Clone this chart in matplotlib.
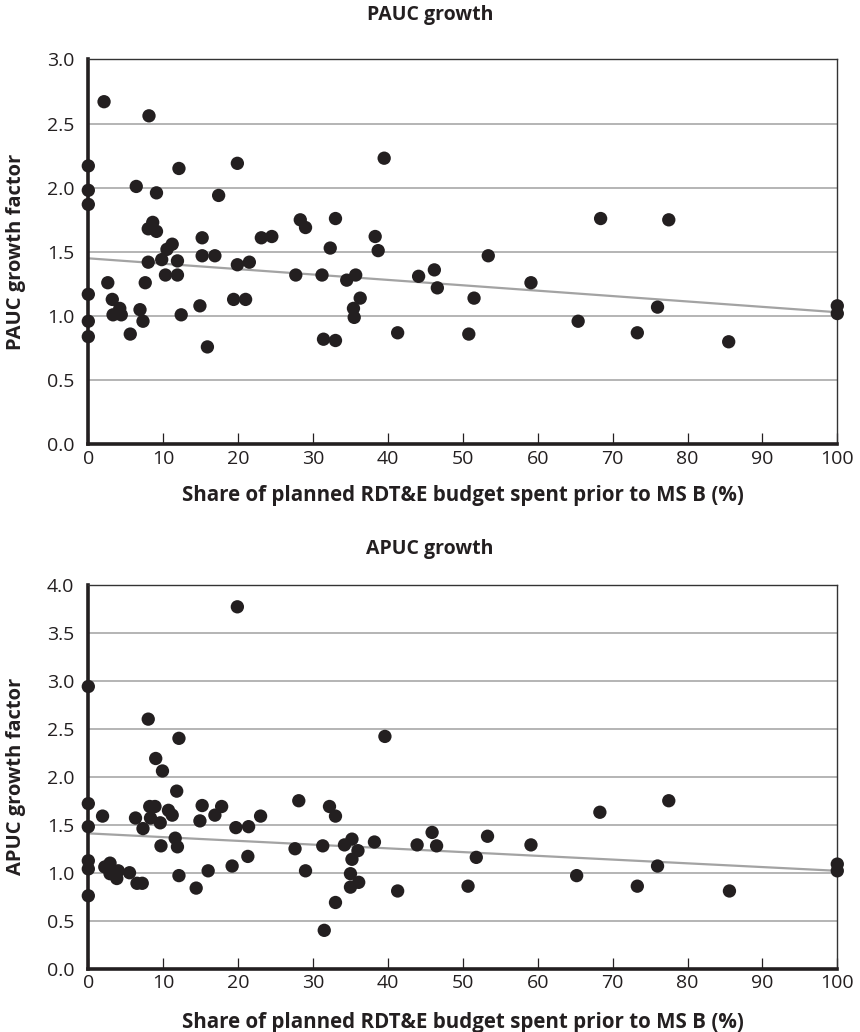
import numpy as np
import matplotlib
matplotlib.use("Agg")
import matplotlib.pyplot as plt

plt.rcParams["font.family"] = ["Open Sans", "DejaVu Sans"]

# PAUC growth (top panel): share of RDT&E spent before MS B (%) vs growth factor
pauc_share = [2.1, 8.1, 0, 19.9, 12.1, 0, 6.4, 9.1, 17.4, 0, 8.6, 8.0, 9.1, 28.3, 29.0, 33.0,
              11.2, 10.5, 15.2, 23.1, 24.5, 32.3, 15.2, 16.9, 9.8, 11.9, 8.0, 19.9, 21.5,
              10.3, 11.9, 27.7, 31.2, 2.6, 7.6, 0, 3.2, 4.2, 3.3, 4.4, 6.9, 7.3, 12.4, 14.9,
              19.4, 21.0, 0, 5.6, 0, 15.9, 31.4, 33.0,
              39.5, 38.3, 38.7, 53.4, 68.4, 46.2, 35.7, 34.5, 44.1, 46.6, 59.1, 36.3, 51.5,
              35.4, 35.5, 65.4, 41.3, 50.8, 77.5, 76.0, 73.3, 85.5, 100, 100]
pauc_growth = [2.67, 2.56, 2.17, 2.19, 2.15, 1.98, 2.01, 1.96, 1.94, 1.87, 1.73, 1.68, 1.66, 1.75, 1.69, 1.76,
               1.56, 1.52, 1.61, 1.61, 1.62, 1.53, 1.47, 1.47, 1.44, 1.43, 1.42, 1.40, 1.42,
               1.32, 1.32, 1.32, 1.32, 1.26, 1.26, 1.17, 1.13, 1.06, 1.01, 1.01, 1.05, 0.96, 1.01, 1.08,
               1.13, 1.13, 0.96, 0.86, 0.84, 0.76, 0.82, 0.81,
               2.23, 1.62, 1.51, 1.47, 1.76, 1.36, 1.32, 1.28, 1.31, 1.22, 1.26, 1.14, 1.14,
               1.06, 0.99, 0.96, 0.87, 0.86, 1.75, 1.07, 0.87, 0.80, 1.08, 1.02]
pauc_trend_x = [0, 100]
pauc_trend_y = [1.45, 1.03]

# APUC growth (bottom panel)
apuc_share = [19.9, 0, 8.0, 12.1, 39.6, 9.0, 9.9, 11.8, 0, 28.1, 8.2, 8.9, 10.7, 11.2, 15.2, 17.8,
              32.2, 1.9, 6.3, 8.3, 9.6, 14.9, 16.9, 23.0, 33.0, 0, 7.3, 19.7, 21.4, 11.6, 9.7,
              11.9, 27.6, 31.3, 0, 0, 2.9, 2.2, 2.9, 4.0, 3.8, 5.5, 6.5, 7.2, 12.1, 16.0, 19.2,
              21.3, 29.0, 0, 14.4, 33.0, 31.5,
              35.2, 34.2, 36.0, 35.2, 38.2, 35.0, 36.1, 35.0, 41.3, 45.9, 43.9, 46.5, 53.3,
              51.8, 50.7, 59.1, 65.2, 68.3, 77.5, 76.0, 73.3, 85.6, 100, 100]
apuc_growth = [3.77, 2.94, 2.60, 2.40, 2.42, 2.19, 2.06, 1.85, 1.72, 1.75, 1.69, 1.69, 1.65, 1.60, 1.70, 1.69,
               1.69, 1.59, 1.57, 1.57, 1.52, 1.54, 1.60, 1.59, 1.59, 1.48, 1.46, 1.47, 1.48, 1.36, 1.28,
               1.27, 1.25, 1.28, 1.125, 1.04, 1.10, 1.06, 0.99, 1.02, 0.94, 1.00, 0.89, 0.89, 0.97, 1.02, 1.07,
               1.17, 1.02, 0.76, 0.84, 0.69, 0.40,
               1.35, 1.29, 1.23, 1.14, 1.32, 0.99, 0.90, 0.85, 0.81, 1.42, 1.29, 1.28, 1.38,
               1.16, 0.86, 1.29, 0.97, 1.63, 1.75, 1.07, 0.86, 0.81, 1.09, 1.02]
apuc_trend_x = [0, 100]
apuc_trend_y = [1.41, 1.02]

x_ticks = list(range(0, 101, 10))
x_label = "Share of planned RDT&E budget spent prior to MS B (%)"
ink = "#231f20"

fig = plt.figure(figsize=(8.6, 10.32), dpi=100)

panels = [
    # rect, title, title y, ylabel, xs, ys, trend, ymax, xlabel y
    ([0.1027, 0.5693, 0.8709, 0.3732], "PAUC growth", 0.985, "PAUC growth factor",
     pauc_share, pauc_growth, (pauc_trend_x, pauc_trend_y), 3.0, -0.105),
    ([0.1027, 0.0613, 0.8709, 0.3721], "APUC growth", 0.468, "APUC growth factor",
     apuc_share, apuc_growth, (apuc_trend_x, apuc_trend_y), 4.0, -0.112),
]

for rect, title, title_y, ylabel, xs, ys, trend, ymax, xl_y in panels:
    ax = fig.add_axes(rect)
    ax.set_xlim(0, 100)
    ax.set_ylim(0, ymax)
    yt = np.arange(0, ymax + 0.01, 0.5)
    ax.set_yticks(yt)
    ax.set_yticklabels([f"{v:.1f}" for v in yt])
    ax.set_xticks(x_ticks)

    ax.grid(axis="y", color="#a8a8a8", linewidth=1.2, zorder=0)
    ax.set_axisbelow(True)

    ax.plot(trend[0], trend[1], color="#a3a3a3", linewidth=1.6, zorder=2)
    ax.scatter(xs, ys, s=92, color=ink, edgecolors="none", zorder=3, clip_on=False)

    for side in ["left", "bottom"]:
        ax.spines[side].set_linewidth(2.6)
        ax.spines[side].set_color(ink)
    for side in ["top", "right"]:
        ax.spines[side].set_linewidth(1.0)
        ax.spines[side].set_color("#333333")

    ax.tick_params(axis="x", direction="in", length=8, width=0.9, color=ink,
                   labelsize=14, pad=4, labelcolor=ink)
    ax.tick_params(axis="y", length=0, labelsize=14, pad=10, labelcolor=ink)

    ax.set_xlabel(x_label, fontsize=14.8, fontweight="bold", color=ink)
    ax.xaxis.set_label_coords(0.5, xl_y)
    ax.set_ylabel(ylabel, fontsize=14.5, fontweight="bold", color=ink)
    ax.yaxis.set_label_coords(-0.083, 0.5)

    fig.text(0.5, title_y, title, ha="center", va="center", fontsize=14,
             fontweight="bold", color=ink)

fig.savefig("out.png", dpi=100)
